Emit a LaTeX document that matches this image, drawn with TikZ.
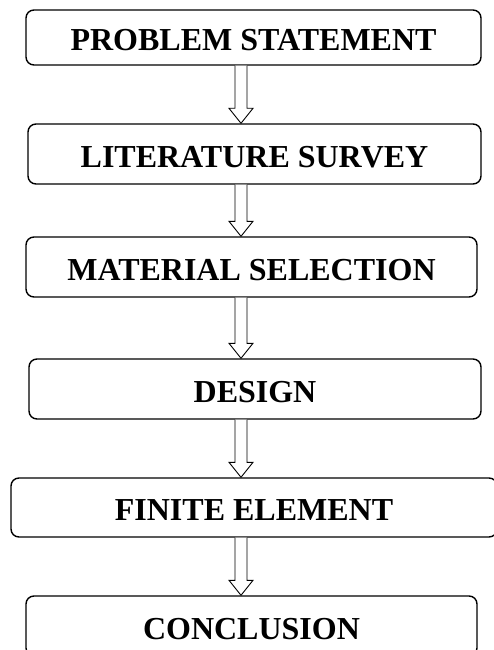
\documentclass[tikz,border=0pt]{standalone}
\usepackage{fontspec}
\setmainfont{Liberation Serif}
\usetikzlibrary{calc}
\begin{document}
\begin{tikzpicture}[x=1pt,y=-1pt,
  box/.style={draw, line width=1.4pt, rounded corners=8pt, inner sep=0pt,
    font=\fontsize{32}{36}\selectfont\bfseries, text height=26.5pt, text depth=0pt},
  blk/.style={draw, line width=0.9pt, line join=miter, fill=white}]
\useasboundingbox (0,0) rectangle (494,650);
\node[box, minimum width=455pt, minimum height=55pt] (b1) at (253.5,37.5) {PROBLEM STATEMENT};
\node[box, minimum width=453pt, minimum height=60pt] (b2) at (254.5,154) {LITERATURE SURVEY};
\node[box, minimum width=451pt, minimum height=60pt] (b3) at (251.5,267) {MATERIAL SELECTION};
\node[box, minimum width=452pt, minimum height=60pt] (b4) at (255,389) {DESIGN};
\node[box, minimum width=486pt, minimum height=59pt] (b5) at (254,507.5) {FINITE ELEMENT};
\node[box, minimum width=451pt, minimum height=60pt] (b6) at (251.5,626) {CONCLUSION};
\coordinate (ax) at (241,0);
\newcommand\blockarrow[2]{%
  \draw[blk] ($(#1.south -| ax)+(-6,0)$) -- ($(#2.north -| ax)+(-6,-15)$)
    -- ($(#2.north -| ax)+(-12,-15)$) -- (#2.north -| ax)
    -- ($(#2.north -| ax)+(12,-15)$) -- ($(#2.north -| ax)+(6,-15)$)
    -- ($(#1.south -| ax)+(6,0)$);}
\blockarrow{b1}{b2}
\blockarrow{b2}{b3}
\blockarrow{b3}{b4}
\blockarrow{b4}{b5}
\blockarrow{b5}{b6}
\end{tikzpicture}
\end{document}
